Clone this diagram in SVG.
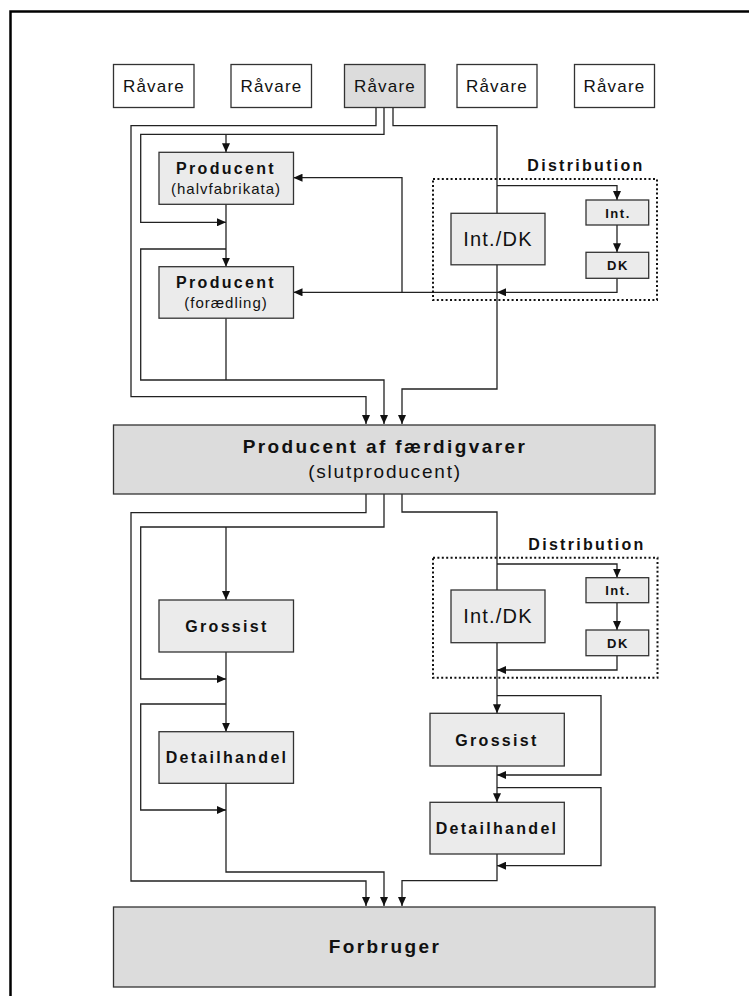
<svg xmlns="http://www.w3.org/2000/svg" width="749" height="996" viewBox="0 0 749 996">
<defs>
<marker id="ah" markerUnits="userSpaceOnUse" markerWidth="9" markerHeight="8" refX="9" refY="4" orient="auto">
<path d="M0,0 L9,4 L0,8 z" fill="#111"/>
</marker>
<style>
.ln{fill:none;stroke:#222;stroke-width:1.3}
.ar{marker-end:url(#ah)}
.bw{fill:#fff;stroke:#333;stroke-width:1.3}
.bg{fill:#dcdcdc;stroke:#333;stroke-width:1.3}
.bl{fill:#ebebeb;stroke:#333;stroke-width:1.3}
.dot{fill:none;stroke:#111;stroke-width:2;stroke-dasharray:2 2.4}
text{font-family:"Liberation Sans",Arial,sans-serif;fill:#111;text-anchor:middle}
.raw{font-size:17px;letter-spacing:1.2px}
.bt{font-size:16px;font-weight:bold;letter-spacing:2.3px}
.sub{font-size:15px;letter-spacing:1px}
.big{font-size:19px;font-weight:bold;letter-spacing:2.4px}
.bigs{font-size:19px;letter-spacing:1.8px}
.idk{font-size:20px;letter-spacing:1.2px}
.sm{font-size:13px;font-weight:bold;letter-spacing:1.5px}
</style>
</defs>
<path d="M10.5,996 V11.5 H749" fill="none" stroke="#000" stroke-width="2.5"/>

<g id="connectors">
<path class="ln ar" d="M376,107 V125.7 H131 V396.7 H366 V424"/>
<path class="ln ar" d="M384,107 V134.3 H140.7 V222.3 H226"/>
<path class="ln ar" d="M226,134.3 V152.3"/>
<path class="ln ar" d="M393,107 V125.7 H497 V389 H402 V424"/>
<path class="ln ar" d="M226,204.3 V266.7"/>
<path class="ln ar" d="M226,249 H140.7 V380 H384 V424"/>
<path class="ln" d="M226,318 V380"/>
<path class="ln ar" d="M497,185.7 H617 V200"/>
<path class="ln ar" d="M617,225 V252.3"/>
<path class="ln ar" d="M617,278.3 V292.3 H497"/>
<path class="ln ar" d="M497,292.3 H293.5"/>
<path class="ln ar" d="M402,292.3 V177.7 H293.5"/>
<path class="ln ar" d="M366,494 V512.7 H131 V881 H366 V906"/>
<path class="ln ar" d="M384,494 V527 H140.7 V679 H226"/>
<path class="ln ar" d="M226,527 V600"/>
<path class="ln ar" d="M402,494 V512 H497 V713.3"/>
<path class="ln ar" d="M497,564 H617 V577.7"/>
<path class="ln ar" d="M617,602.7 V630"/>
<path class="ln ar" d="M617,655.7 V670 H497"/>
<path class="ln ar" d="M226,652 V731.7"/>
<path class="ln ar" d="M226,704 H140.7 V810 H226"/>
<path class="ln ar" d="M226,783.3 V872 H384 V906"/>
<path class="ln ar" d="M497,695.7 H601 V775 H497"/>
<path class="ln ar" d="M497,766 V802.3"/>
<path class="ln ar" d="M497,787.7 H601 V865.7 H497"/>
<path class="ln ar" d="M497,854 V880.7 H402 V906"/>
</g>

<g id="raavare1"><rect class="bw" x="113.5" y="64.5" width="80.5" height="43"/><text class="raw" x="154" y="92.3">Råvare</text></g>
<g id="raavare2"><rect class="bw" x="231" y="64.5" width="80.5" height="43"/><text class="raw" x="271.5" y="92.3">Råvare</text></g>
<g id="raavare3"><rect class="bg" x="344.5" y="64.5" width="80.5" height="43"/><text class="raw" x="385" y="92.3">Råvare</text></g>
<g id="raavare4"><rect class="bw" x="457" y="64.5" width="80" height="43"/><text class="raw" x="497" y="92.3">Råvare</text></g>
<g id="raavare5"><rect class="bw" x="574.5" y="64.5" width="80" height="43"/><text class="raw" x="614.5" y="92.3">Råvare</text></g>

<g id="producent-halv"><rect class="bl" x="159" y="152.3" width="134.5" height="52"/><text class="bt" x="226" y="174">Producent</text><text class="sub" x="226" y="194.3">(halvfabrikata)</text></g>
<g id="producent-foraedling"><rect class="bl" x="159" y="266.7" width="134.5" height="51.5"/><text class="bt" x="226" y="288.3">Producent</text><text class="sub" x="226" y="308.3">(forædling)</text></g>

<g id="distribution1">
<rect class="dot" x="433" y="179" width="224" height="121"/>
<text class="bt" x="586" y="171">Distribution</text>
</g>
<g id="intdk1"><rect class="bl" x="451" y="213.3" width="94" height="51.5"/><text class="idk" x="498" y="246">Int./DK</text></g>
<g id="int1"><rect class="bl" x="586" y="200" width="62.7" height="25"/><text class="sm" x="618" y="217.5">Int.</text></g>
<g id="dk1"><rect class="bl" x="586" y="252.3" width="62.7" height="26"/><text class="sm" x="618" y="270">DK</text></g>

<g id="slutproducent"><rect class="bg" x="113.5" y="425" width="541.5" height="69"/><text class="big" x="385" y="452.7">Producent af færdigvarer</text><text class="bigs" x="385" y="478.3">(slutproducent)</text></g>

<g id="grossist-l"><rect class="bl" x="159" y="600" width="134.5" height="52"/><text class="bt" x="227" y="631.7">Grossist</text></g>
<g id="detail-l"><rect class="bl" x="159" y="731.7" width="134.5" height="51.6"/><text class="bt" x="227" y="762.7">Detailhandel</text></g>

<g id="distribution2">
<rect class="dot" x="433" y="557.7" width="224.5" height="120"/>
<text class="bt" x="587" y="550">Distribution</text>
</g>
<g id="intdk2"><rect class="bl" x="451" y="590" width="94" height="52.7"/><text class="idk" x="498" y="623.3">Int./DK</text></g>
<g id="int2"><rect class="bl" x="586" y="577.7" width="62.7" height="25"/><text class="sm" x="618" y="595.2">Int.</text></g>
<g id="dk2"><rect class="bl" x="586" y="630" width="62.7" height="25.7"/><text class="sm" x="618" y="648">DK</text></g>

<g id="grossist-r"><rect class="bl" x="430" y="713.3" width="134.3" height="52.7"/><text class="bt" x="497" y="745.7">Grossist</text></g>
<g id="detail-r"><rect class="bl" x="430" y="802.3" width="134.3" height="51.7"/><text class="bt" x="497" y="834">Detailhandel</text></g>

<g id="forbruger"><rect class="bg" x="113.5" y="907" width="541.5" height="80"/><text class="big" x="385" y="953">Forbruger</text></g>
</svg>
